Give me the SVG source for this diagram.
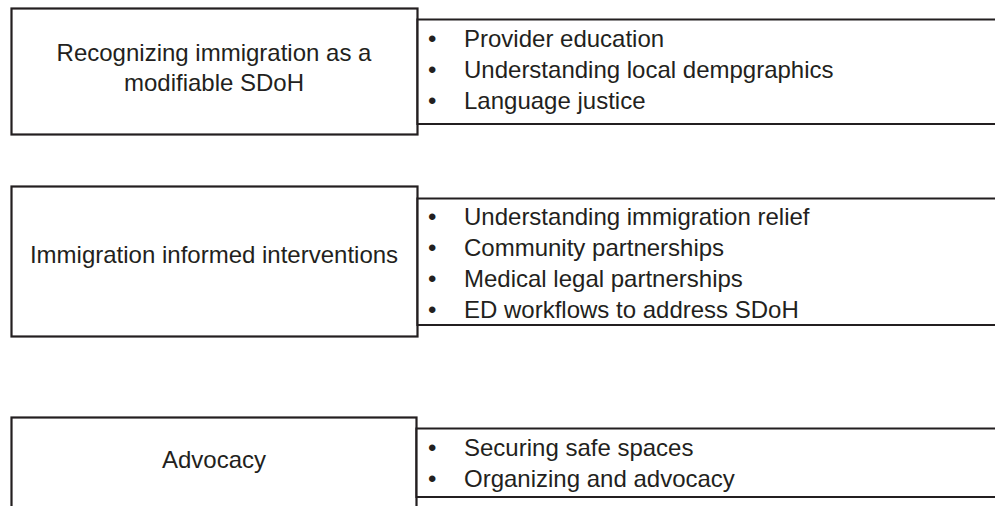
<svg xmlns="http://www.w3.org/2000/svg" width="995" height="506" viewBox="0 0 995 506">
<style>
.box{fill:#fff;stroke:#231f20;stroke-width:2.2}
.t{font-family:"Liberation Sans",Arial,sans-serif;font-size:24px;fill:#231f20}
.c{text-anchor:middle}
</style>
<rect width="995" height="506" fill="#fff"/>
<g id="connectors"></g>
<g id="node1">
<rect class="box" x="11.5" y="8.5" width="406" height="126"/>
<text class="t c" x="214" y="61">Recognizing immigration as a</text>
<text class="t c" x="214" y="91">modifiable SDoH</text>
</g>
<g id="list1">
<path class="box" d="M417.5 19.5 H1000 V124 H417.5 Z"/>
<text class="t" x="428" y="47">•</text><text class="t" x="464" y="47">Provider education</text>
<text class="t" x="428" y="78">•</text><text class="t" x="464" y="78">Understanding local dempgraphics</text>
<text class="t" x="428" y="109">•</text><text class="t" x="464" y="109">Language justice</text>
</g>
<g id="node2">
<rect class="box" x="11.5" y="186.5" width="406" height="150"/>
<text class="t c" x="214" y="263">Immigration informed interventions</text>
</g>
<g id="list2">
<path class="box" d="M417.5 198.5 H1000 V325 H417.5 Z"/>
<text class="t" x="428" y="224.5">•</text><text class="t" x="464" y="224.5">Understanding immigration relief</text>
<text class="t" x="428" y="255.5">•</text><text class="t" x="464" y="255.5">Community partnerships</text>
<text class="t" x="428" y="286.5">•</text><text class="t" x="464" y="286.5">Medical legal partnerships</text>
<text class="t" x="428" y="317.5">•</text><text class="t" x="464" y="317.5">ED workflows to address SDoH</text>
</g>
<g id="node3">
<rect class="box" x="11.5" y="417.5" width="405" height="110"/>
<text class="t c" x="214" y="468">Advocacy</text>
</g>
<g id="list3">
<path class="box" d="M416.5 428.5 H1000 V497 H416.5 Z"/>
<text class="t" x="428" y="456">•</text><text class="t" x="464" y="456">Securing safe spaces</text>
<text class="t" x="428" y="487">•</text><text class="t" x="464" y="487">Organizing and advocacy</text>
</g>
</svg>
